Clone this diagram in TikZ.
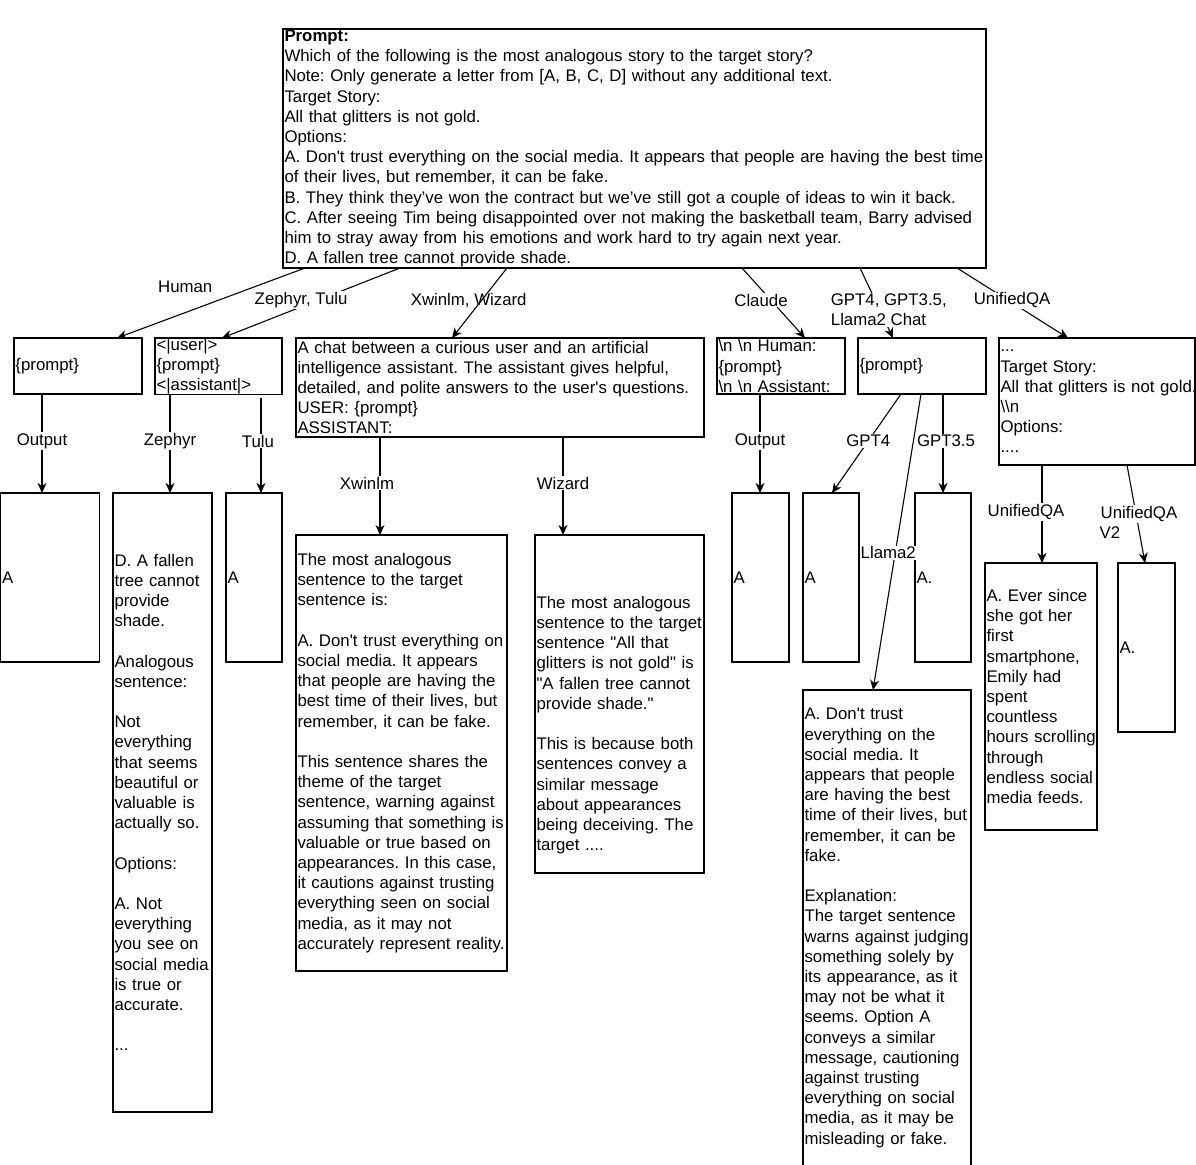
\documentclass[tikz,border=0pt]{standalone}
\usepackage{fontspec}
\newfontfamily\dfam{Liberation Sans}
\usetikzlibrary{arrows.meta}
\newcommand{\dfont}{\dfam\fontsize{16.8pt}{20.2pt}\selectfont\frenchspacing}
\setlength{\fboxsep}{1pt}
\tikzset{
    box/.style={draw, line width=1.1pt, anchor=north west, align=left, inner xsep=1.5pt, inner ysep=0pt, outer sep=0pt, font=\dfont},
    lbl/.style={fill=white, inner sep=1pt, font=\dfont},
    arr/.style={line width=1.1pt, -{Stealth[length=10pt, width=9pt, inset=3pt]}}
}

\begin{document}
\begin{tikzpicture}[x=1pt,y=-1pt]
    \path[use as bounding box, fill=white] (0,0) rectangle (1196,1164);
    % prompt
    \node[box, text width=700pt, minimum height=239pt] (top) at (283,29) {\textbf{Prompt:}\\
    Which of the following is the most analogous story to the target story?\\
    Note: Only generate a letter from [A, B, C, D] without any additional text.\\
    Target Story:\\
    All that glitters is not gold.\\
    Options:\\
    \mbox{A. Don't trust everything on the social media. It appears that people are having the best time}\\
    of their lives, but remember, it can be fake.\\
    B. They think they’ve won the contract but we’ve still got a couple of ideas to win it back.\\
    \mbox{C. After seeing Tim being disappointed over not making the basketball team, Barry advised}\\
    him to stray away from his emotions and work hard to try again next year.\\
    D. A fallen tree cannot provide shade.};
    % templates
    \node[box, text width=125pt, minimum height=56pt] (hbox) at (14,338) {\{prompt\}};
    \node[box, text width=124pt, minimum height=56pt] (zbox) at (155,338) {<|user|>\\\{prompt\}\\<|assistant|>};
    \node[box, text width=405pt, minimum height=99pt] (xbox) at (296,338) {A chat between a curious user and an artificial\\intelligence assistant. The assistant gives helpful,\\detailed, and polite answers to the user's questions.\\USER: \{prompt\}\\ASSISTANT:};
    \node[box, text width=125pt, minimum height=56pt] (cbox) at (717,338) {\textbackslash n \textbackslash n Human:\\\{prompt\}\\\textbackslash n \textbackslash n Assistant:};
    \node[box, text width=125pt, minimum height=56pt] (gbox) at (858,338) {\{prompt\}};
    \node[box, text width=193pt, minimum height=127pt] (ubox) at (999,338) {...\\Target Story:\\\mbox{All that glitters is not gold.}\\\textbackslash\textbackslash n\\Options:\\....};
    % outputs
    \node[box, text width=96pt, minimum height=169pt] (hout) at (0.5,493) {A};
    \node[box, text width=96pt, minimum height=619pt] (zout) at (113,493) {D. A fallen\\tree cannot\\provide\\shade.\\\mbox{}\\Analogous\\sentence:\\\mbox{}\\Not\\everything\\that seems\\beautiful or\\valuable is\\actually so.\\\mbox{}\\Options:\\\mbox{}\\A. Not\\everything\\you see on\\\mbox{social media}\\is true or\\accurate.\\\mbox{}\\...};
    \node[box, text width=53pt, minimum height=169pt] (tout) at (226,493) {A};
    \node[box, text width=208pt, minimum height=436pt] (xout) at (296,535) {The most analogous\\sentence to the target\\sentence is:\\\mbox{}\\\mbox{A. Don't trust everything on}\\social media. It appears\\that people are having the\\\mbox{best time of their lives, but}\\remember, it can be fake.\\\mbox{}\\This sentence shares the\\theme of the target\\sentence, warning against\\\mbox{assuming that something is}\\valuable or true based on\\appearances. In this case,\\it cautions against trusting\\everything seen on social\\media, as it may not\\\mbox{accurately represent reality.}};
    \node[box, text width=166pt, minimum height=338pt] (wout) at (535,535) {\mbox{}\\\mbox{}\\[14pt]The most analogous\\\mbox{sentence to the target}\\sentence "All that\\glitters is not gold" is\\"A fallen tree cannot\\provide shade."\\\mbox{}\\This is because both\\sentences convey a\\similar message\\about appearances\\being deceiving. The\\target ....};
    \node[box, text width=54pt, minimum height=169pt] (cout) at (732,493) {A};
    \node[box, text width=53pt, minimum height=169pt] (gfout) at (803,493) {A};
    \node[box, text width=53pt, minimum height=169pt] (gtout) at (915,493) {A.};
    \node[box, text width=165pt, minimum height=476pt] (lout) at (803,690) {A. Don't trust\\everything on the\\social media. It\\appears that people\\are having the best\\\mbox{time of their lives, but}\\remember, it can be\\fake.\\\mbox{}\\Explanation:\\The target sentence\\\mbox{warns against judging}\\something solely by\\its appearance, as it\\may not be what it\\seems. Option A\\conveys a similar\\message, cautioning\\against trusting\\everything on social\\media, as it may be\\misleading or fake.};
    \node[box, text width=109pt, minimum height=267pt] (uout) at (985,563) {A. Ever since\\she got her\\first\\smartphone,\\Emily had\\spent\\countless\\\mbox{hours scrolling}\\through\\\mbox{endless social}\\media feeds.};
    \node[box, text width=54pt, minimum height=169pt] (uvout) at (1118,563) {A.};
    % prompt to templates
    \draw[arr] ([xshift=22pt]top.south west) -- node[lbl, pos=.27, xshift=-69pt] {Human} ([xshift=103pt]hbox.north west);
    \draw[arr] ([xshift=117pt]top.south west) -- node[lbl, pos=.46, xshift=-17pt] {Zephyr, Tulu} ([xshift=67pt]zbox.north west);
    \draw[arr] ([xshift=224pt]top.south west) -- node[lbl, fill=none, pos=.46, xshift=-13pt] {Xwinlm, Wizard} ([xshift=156pt]xbox.north west);
    \draw[arr] ([xshift=459pt]top.south west) -- node[lbl, pos=.46, xshift=-10pt] {Claude} ([xshift=88pt]cbox.north west);
    \draw[arr] ([xshift=577pt]top.south west) -- node[lbl, align=left, pos=.6, xshift=9pt] {GPT4, GPT3.5,\\Llama2 Chat} ([xshift=35pt]gbox.north west);
    \draw[arr] ([xshift=674pt]top.south west) -- node[lbl, pos=.46, xshift=4pt] {UnifiedQA} ([xshift=69pt]ubox.north west);
    % templates to outputs
    \draw[arr] ([xshift=28pt]hbox.south west) -- node[lbl, pos=.475] {Output} ([xshift=41.5pt]hout.north west);
    \draw[arr] ([xshift=15pt]zbox.south west) -- node[lbl, pos=.475] {Zephyr} ([xshift=57pt]zout.north west);
    \draw[arr, shorten <=4pt] ([xshift=106pt]zbox.south west) -- node[lbl, pos=.475, xshift=-3pt] {Tulu} ([xshift=35pt]tout.north west);
    \draw[arr] ([xshift=84pt]xbox.south west) -- node[lbl, pos=.47, xshift=-13pt] {Xwinlm} ([xshift=84pt]xout.north west);
    \draw[arr] ([xshift=267pt]xbox.south west) -- node[lbl, pos=.47] {Wizard} ([xshift=28pt]wout.north west);
    \draw[arr] ([xshift=43pt]cbox.south west) -- node[lbl, pos=.475] {Output} ([xshift=28pt]cout.north west);
    \draw[arr] ([xshift=43pt]gbox.south west) -- node[lbl, pos=.475] {GPT4} ([xshift=29pt]gfout.north west);
    \draw[arr] ([xshift=63pt]gbox.south west) -- node[lbl, pos=.537, xshift=-7pt] {Llama2} ([xshift=70pt]lout.north west);
    \draw[arr] ([xshift=85pt]gbox.south west) -- node[lbl, pos=.475, xshift=3pt] {GPT3.5} ([xshift=28pt]gtout.north west);
    \draw[arr] ([xshift=43pt]ubox.south west) -- node[lbl, pos=.48, xshift=-16pt] {UnifiedQA} ([xshift=57pt]uout.north west);
    \draw[arr] ([xshift=128pt]ubox.south west) -- node[lbl, fill=none, align=left, pos=.58, xshift=1.5pt] {\colorbox{white}{UnifiedQA}\\V2} ([xshift=27pt]uvout.north west);
\end{tikzpicture}
\end{document}
